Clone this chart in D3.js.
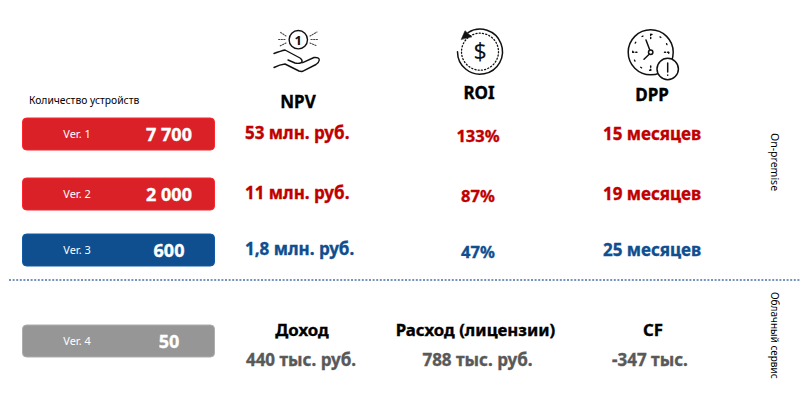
<!DOCTYPE html>
<html>
<head>
<meta charset="utf-8">
<script src="https://cdn.jsdelivr.net/npm/d3@7"></script>
<style>
html,body{margin:0;padding:0;background:#fff;overflow:hidden}
text{font-family:"Noto Sans",Tahoma,sans-serif}
.heavy{stroke-width:0.35px}
</style>
</head>
<body>
<svg id="chart" width="800" height="419"></svg>
<script>
const versions = ["Ver. 1", "Ver. 2", "Ver. 3"];
const devices = ["7 700", "2 000", "600"];
const npv = ["53 млн. руб.", "11 млн. руб.", "1,8 млн. руб."];
const roi = ["133%", "87%", "47%"];
const dpp = ["15 месяцев", "19 месяцев", "25 месяцев"];
const cloudVersion = "Ver. 4";
const cloudDevices = "50";
const cloudHeaders = ["Доход", "Расход (лицензии)", "CF"];
const cloudValues = ["440 тыс. руб.", "788 тыс. руб.", "-347 тыс."];
const metricHeaders = ["NPV", "ROI", "DPP"];

const RED = "#da2128", DARKRED = "#c00000", BLUE = "#0f4e8f", GREY = "#969696";

const svg = d3.select("#chart");
const allVersions = versions.concat([cloudVersion]);
const allDevices = devices.concat([cloudDevices]);

const rowY = d3.scaleOrdinal().domain(allVersions).range([134, 194, 250, 341]);
const fill = d3.scaleOrdinal().domain(allVersions).range([RED, RED, BLUE, GREY]);
const textFill = d3.scaleOrdinal().domain(allVersions).range([DARKRED, DARKRED, BLUE, "#595959"]);

svg.append("text").attr("x", 29).attr("y", 104).attr("font-size", 10.3).attr("fill", "#000")
	.text("Количество устройств");

// version boxes
const box = svg.selectAll("g.box").data(allVersions).join("g").attr("class", "box")
	.attr("transform", d => "translate(0," + rowY(d) + ")");
box.append("rect").attr("x", 22.5).attr("y", -16).attr("width", 192).attr("height", 32).attr("rx", 4)
	.attr("fill", d => fill(d)).attr("stroke", d => d3.color(fill(d)).brighter(0.4)).attr("stroke-width", 1);
box.append("text").attr("x", 77).attr("y", 4).attr("text-anchor", "middle")
	.attr("font-size", 11).attr("fill", "#fff").text(d => d);
box.append("text").attr("class", "heavy").attr("x", 169).attr("y", 7).attr("text-anchor", "middle")
	.attr("font-size", 18).attr("font-weight", "bold").attr("fill", "#fff").attr("stroke", "#fff")
	.text((d, i) => allDevices[i]);

// metric rows
const metricColumns = [
	{ x: 245, anchor: "start", values: npv, dy: -1, size: 17 },
	{ x: 478, anchor: "middle", values: roi, dy: 2, size: 16.5 },
	{ x: 652, anchor: "middle", values: dpp, dy: 0, size: 17 }
];
metricColumns.forEach(col => {
	svg.selectAll(null).data(versions).join("text").attr("class", "heavy")
		.attr("x", col.x).attr("y", d => rowY(d) + 6 + col.dy)
		.attr("text-anchor", col.anchor)
		.attr("font-size", col.size).attr("font-weight", "bold")
		.attr("fill", d => textFill(d)).attr("stroke", d => textFill(d))
		.text((d, i) => col.values[i]);
});

// headers
const headerX = d3.scaleOrdinal().domain(metricHeaders).range([298, 479, 652]);
const headerY = d3.scaleOrdinal().domain(metricHeaders).range([108, 99, 101]);
svg.selectAll(null).data(metricHeaders).join("text").attr("class", "heavy")
	.attr("x", d => headerX(d)).attr("y", d => headerY(d))
	.attr("text-anchor", "middle").attr("font-size", 17).attr("font-weight", "bold")
	.attr("fill", "#000").attr("stroke", "#000")
	.text(d => d);

// cloud row
const cloudX = d3.scaleOrdinal().domain(cloudHeaders).range([302, 475.5, 653]);
const cloudValueX = d3.scaleOrdinal().domain(cloudHeaders).range([301, 477.5, 650]);
svg.selectAll(null).data(cloudHeaders).join("text").attr("class", "heavy")
	.attr("x", d => cloudX(d)).attr("y", 336).attr("text-anchor", "middle")
	.attr("font-size", 16.8).attr("font-weight", "bold").attr("fill", "#000").attr("stroke", "#000").text(d => d);
svg.selectAll(null).data(cloudHeaders).join("text").attr("class", "heavy")
	.attr("x", d => cloudValueX(d)).attr("y", 366).attr("text-anchor", "middle")
	.attr("font-size", 17).attr("font-weight", "bold").attr("fill", "#595959").attr("stroke", "#595959")
	.text((d, i) => cloudValues[i]);

// divider
svg.append("line").attr("x1", 9).attr("x2", 800).attr("y1", 280).attr("y2", 280)
	.attr("stroke", "#4a72a8").attr("stroke-width", 1.4).attr("stroke-dasharray", "2 1.6");

// side labels
[["On-premise", 133, 10.5], ["Облачный сервис", 292, 10]].forEach(s => {
	svg.append("text").attr("transform", "translate(771," + s[1] + ") rotate(90)")
		.attr("font-size", s[2]).attr("fill", "#000").text(s[0]);
});

// icons
const ink = "#111";
function strokeFree(g, w) { return g.attr("fill", "none").attr("stroke", ink).attr("stroke-width", w).attr("stroke-linecap", "round").attr("stroke-linejoin", "round"); }

// hand with coin
const hand = strokeFree(svg.append("g"), 1.4);
hand.append("circle").attr("cx", 298.3).attr("cy", 39.7).attr("r", 9.2);
hand.append("path").attr("d", "M274 53.5 Q281 51 285 50 L300 58 Q303 60 301.7 62.5 Q298 64 295 63 L288 60");
hand.append("path").attr("d", "M302.7 62.7 L314 57.5 Q319 57 319.3 60 Q319 62.5 316 64.5 L302.5 71.3 Q301 71.7 299 71 L285 64 Q280 64.5 274 67.5");
svg.append("text").attr("x", 298.3).attr("y", 44.5).attr("text-anchor", "middle").attr("font-size", 13).attr("font-weight", "bold").attr("fill", ink).text("1");
const rays = strokeFree(svg.append("g"), 1.1).attr("stroke", "#444").attr("stroke-dasharray", "1.2 1.4");
rays.append("path").attr("d", "M286 36 L280 32 M285 39.5 L278 39.5 M286 43 L280 46 M310 36 L317 32 M311 39.5 L318 39.5 M310 43 L317 46");

// coin with arrow
const coin = strokeFree(svg.append("g").attr("transform", "translate(480,51.7)"), 1.5);
const arc = d3.arc().innerRadius(22.5).outerRadius(22.5);
coin.append("path").attr("d", arc({ startAngle: -0.56, endAngle: 2 * Math.PI - 1.57 }));
coin.append("circle").attr("r", 18.5).attr("stroke-width", 1.3).attr("stroke-dasharray", "1.1 2.2");
coin.append("path").attr("d", "M-18.7 -12.4 L-15 -21 L-8.3 -15 Z").attr("fill", ink).attr("stroke-width", 0.5);
svg.append("text").attr("x", 480).attr("y", 60).attr("text-anchor", "middle").attr("font-size", 23).attr("fill", ink).text("$");

// clock
const clock = strokeFree(svg.append("g").attr("transform", "translate(650.7,52.3)"), 1.5);
clock.append("circle").attr("r", 22.5);
clock.append("circle").attr("r", 18).attr("stroke-width", 1.3).attr("stroke-dasharray", "1.1 8.3");
clock.append("path").attr("stroke-dasharray", "1.1 2").attr("d", "M0 -18 L0 -13 M18 0 L13 0 M0 18 L0 13 M-18 0 L-13 0");
clock.append("path").attr("d", "M-1 -2.5 L-4.7 -12.3 M-1.5 2 L-6.7 7");
clock.append("circle").attr("r", 2.2).attr("fill", "#fff");
const badge = strokeFree(svg.append("g").attr("transform", "translate(667.7,69)"), 1.5);
badge.append("circle").attr("r", 10.7).attr("fill", "#fff");
badge.append("path").attr("d", "M0 -6 L0 3 M0 6 L0 6.3");
</script>
</body>
</html>
